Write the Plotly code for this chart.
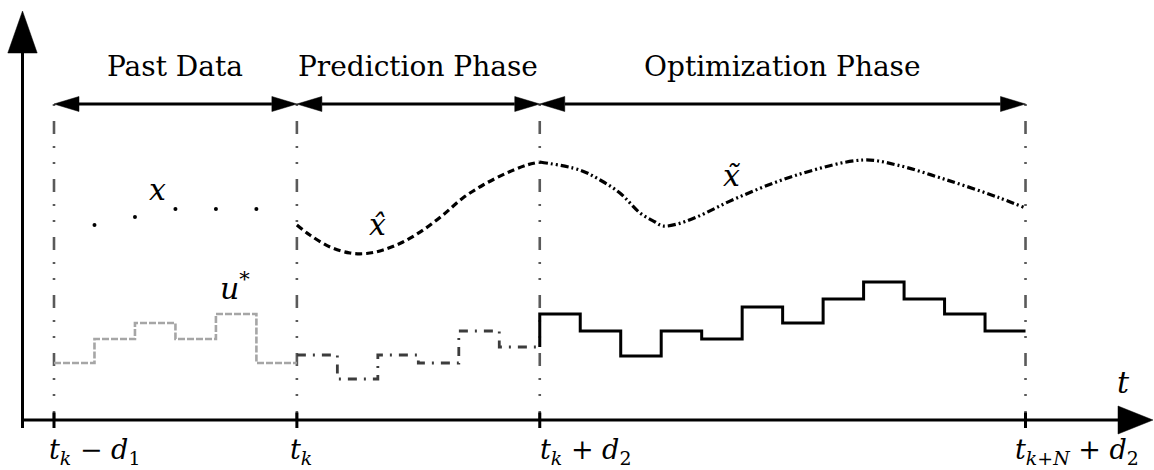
import plotly.graph_objects as go

# ---- data -------------------------------------------------------------
# time grid: one unit per sampling step; t_k - d1 = 0, t_k = 6, t_k + d2 = 12, t_{k+N} + d2 = 24
boundaries = [0, 6, 12, 24]
boundary_labels = [
    "<i>t</i><sub><i>k</i></sub> − <i>d</i><sub>1</sub>",
    "<i>t</i><sub><i>k</i></sub>",
    "<i>t</i><sub><i>k</i></sub> + <i>d</i><sub>2</sub>",
    "<i>t</i><sub><i>k</i>+<i>N</i></sub> + <i>d</i><sub>2</sub>",
]
phase_names = ["Past Data", "Prediction Phase", "Optimization Phase"]

# past measured state samples x
x_past_t = [1, 2, 3, 4, 5]
x_past_v = [195, 203, 211, 211, 211]

# predicted state x-hat over the prediction phase
xhat_t = [6.0, 6.32, 6.82, 7.31, 7.72, 8.13, 8.62, 9.12, 9.61, 10.1, 10.6, 11.18, 11.68, 12.0]
xhat_v = [195, 185, 173, 167, 166.5, 170, 178, 190, 205, 222, 235, 247, 255, 258]

# optimized state x-tilde over the optimization phase
xtil_t = [12.0, 12.99, 13.49, 13.98, 14.48, 14.85, 15.04, 15.4, 15.88, 16.87, 18.35, 19.99, 20.82, 22.06, 23.3, 24.0]
xtil_v = [258, 250, 240, 227, 207, 198, 194, 196, 203, 222, 245, 260, 255, 240, 223, 212]

# piecewise-constant inputs u* (one value per step)
u_past = [57, 81, 97, 81, 106, 57]
u_pred = [65, 41, 65, 57, 89, 73]
u_opt = [106, 89, 64, 89, 81, 113, 97, 121, 138, 121, 106, 89]

# ---- geometry of the canvas --------------------------------------------
W, H = 1154, 470
PX_T = 40.48          # pixels per time unit
X0_PX = 54            # pixel column of t = 0
AXIS_PX = 420         # pixel row of the time axis (value 0), 1 value unit = 1 px
x_range = [-X0_PX / PX_T, (W - X0_PX) / PX_T]
y_range = [AXIS_PX - H, AXIS_PX]


def tx(px):
    """pixel offset -> time units"""
    return px / PX_T


FONT = "DejaVu Serif"
BLACK = "#000000"

fig = go.Figure()

# vertical dash-dot-dot markers at the phase boundaries
arrow_level = 316
for b in boundaries:
    fig.add_trace(go.Scatter(
        x=[b, b], y=[arrow_level, 0], mode="lines",
        line=dict(color="#5a5a5a", width=2.6, dash="2px,15px,13px,12px,2px,14px"),
        hoverinfo="skip", showlegend=False))

# past samples of x
fig.add_trace(go.Scatter(
    x=x_past_t, y=x_past_v, mode="markers",
    marker=dict(color=BLACK, size=4), hoverinfo="skip", showlegend=False))

# predicted x-hat
fig.add_trace(go.Scatter(
    x=xhat_t, y=xhat_v, mode="lines", line_shape="spline",
    line=dict(color=BLACK, width=3.2, dash="7px,4px"),
    hoverinfo="skip", showlegend=False))

# optimized x-tilde
fig.add_trace(go.Scatter(
    x=xtil_t, y=xtil_v, mode="lines", line_shape="spline",
    line=dict(color=BLACK, width=3.2, dash="8px,3px,2px,3px,2px,3px"),
    hoverinfo="skip", showlegend=False))

# input sequences as step functions
t_past = list(range(boundaries[0], boundaries[1] + 1))
fig.add_trace(go.Scatter(
    x=t_past, y=u_past + [u_past[-1]], mode="lines", line_shape="hv",
    line=dict(color="#a6a6a6", width=2.6, dash="7px,2px"),
    hoverinfo="skip", showlegend=False))

t_pred = list(range(boundaries[1], boundaries[2] + 1))
fig.add_trace(go.Scatter(
    x=t_pred, y=u_pred + [u_pred[-1]], mode="lines", line_shape="hv",
    line=dict(color="#3c3c3c", width=2.8, dash="9px,7px,2px,7px"),
    hoverinfo="skip", showlegend=False))

t_opt = [boundaries[2]] + list(range(boundaries[2], boundaries[3] + 1))
fig.add_trace(go.Scatter(
    x=t_opt, y=[u_pred[-1]] + u_opt + [u_opt[-1]], mode="lines", line_shape="hv",
    line=dict(color=BLACK, width=3),
    hoverinfo="skip", showlegend=False))

# double-headed phase arrows
head_len = tx(25)
head_half = 7.5
hx, hy = [], []
for a, b in zip(boundaries[:-1], boundaries[1:]):
    fig.add_trace(go.Scatter(
        x=[a + head_len, b - head_len], y=[arrow_level, arrow_level], mode="lines",
        line=dict(color=BLACK, width=3), hoverinfo="skip", showlegend=False))
    hx += [a, a + head_len, a + head_len, a, None]
    hy += [arrow_level, arrow_level + head_half, arrow_level - head_half, arrow_level, None]
    hx += [b, b - head_len, b - head_len, b, None]
    hy += [arrow_level, arrow_level + head_half, arrow_level - head_half, arrow_level, None]

# coordinate axes
y_axis_t = tx(22.5 - X0_PX)
x_axis_end = tx(1118 - X0_PX)
x_axis_tip = tx(1153 - X0_PX)
y_axis_end = AXIS_PX - 53
y_axis_tip = AXIS_PX - 11
fig.add_trace(go.Scatter(
    x=[y_axis_t, y_axis_t], y=[-8, y_axis_end], mode="lines",
    line=dict(color=BLACK, width=3), hoverinfo="skip", showlegend=False))
fig.add_trace(go.Scatter(
    x=[y_axis_t - tx(0.8), x_axis_end], y=[0, 0], mode="lines",
    line=dict(color=BLACK, width=3), hoverinfo="skip", showlegend=False))
hx += [y_axis_t, y_axis_t - tx(14.7), y_axis_t + tx(14.7), y_axis_t, None]
hy += [y_axis_tip, y_axis_end, y_axis_end, y_axis_tip, None]
hx += [x_axis_tip, x_axis_end, x_axis_end, x_axis_tip, None]
hy += [0, 14, -14, 0, None]
fig.add_trace(go.Scatter(
    x=hx, y=hy, mode="lines", fill="toself", fillcolor=BLACK,
    line=dict(color=BLACK, width=0.5), hoverinfo="skip", showlegend=False))

# tick marks on the time axis
tk_x, tk_y = [], []
for b in boundaries:
    tk_x += [b, b, None]
    tk_y += [7.5, -8, None]
fig.add_trace(go.Scatter(
    x=tk_x, y=tk_y, mode="lines", line=dict(color=BLACK, width=3),
    hoverinfo="skip", showlegend=False))

annotations = []
# phase titles
for name, a, b in zip(phase_names, boundaries[:-1], boundaries[1:]):
    annotations.append(dict(
        x=(a + b) / 2, y=arrow_level + 38, text=name, showarrow=False,
        xanchor="center", yanchor="middle",
        font=dict(family=FONT, size=28, color=BLACK)))

# boundary tick labels
label_shift = [-7, -9, -2, -13]
for b, lab, dx in zip(boundaries, boundary_labels, label_shift):
    annotations.append(dict(
        x=b, y=-31, text=lab, showarrow=False, xanchor="left", yanchor="middle",
        xshift=dx, font=dict(family=FONT, size=27, color=BLACK)))

# symbol labels
symbols = [
    ("<i>x</i>", 2.55, 231),
    ("<i>x\u0302</i>", 7.98, 196),
    ("<i>x\u0303</i>", 16.74, 245),
    ("<i>u</i><sup>*</sup>", 4.47, 134),
    ("<i>t</i>", 26.43, 38),
]
for txt, xv, yv in symbols:
    annotations.append(dict(
        x=xv, y=yv, text=txt, showarrow=False, xanchor="center", yanchor="middle",
        font=dict(family=FONT, size=30, color=BLACK)))

fig.update_layout(
    width=W, height=H,
    margin=dict(l=0, r=0, t=0, b=0),
    paper_bgcolor="white", plot_bgcolor="white",
    font=dict(family=FONT),
    xaxis=dict(range=x_range, visible=False, fixedrange=True),
    yaxis=dict(range=y_range, visible=False, fixedrange=True),
    annotations=annotations,
    showlegend=False,
)

fig.write_html("out.html")
